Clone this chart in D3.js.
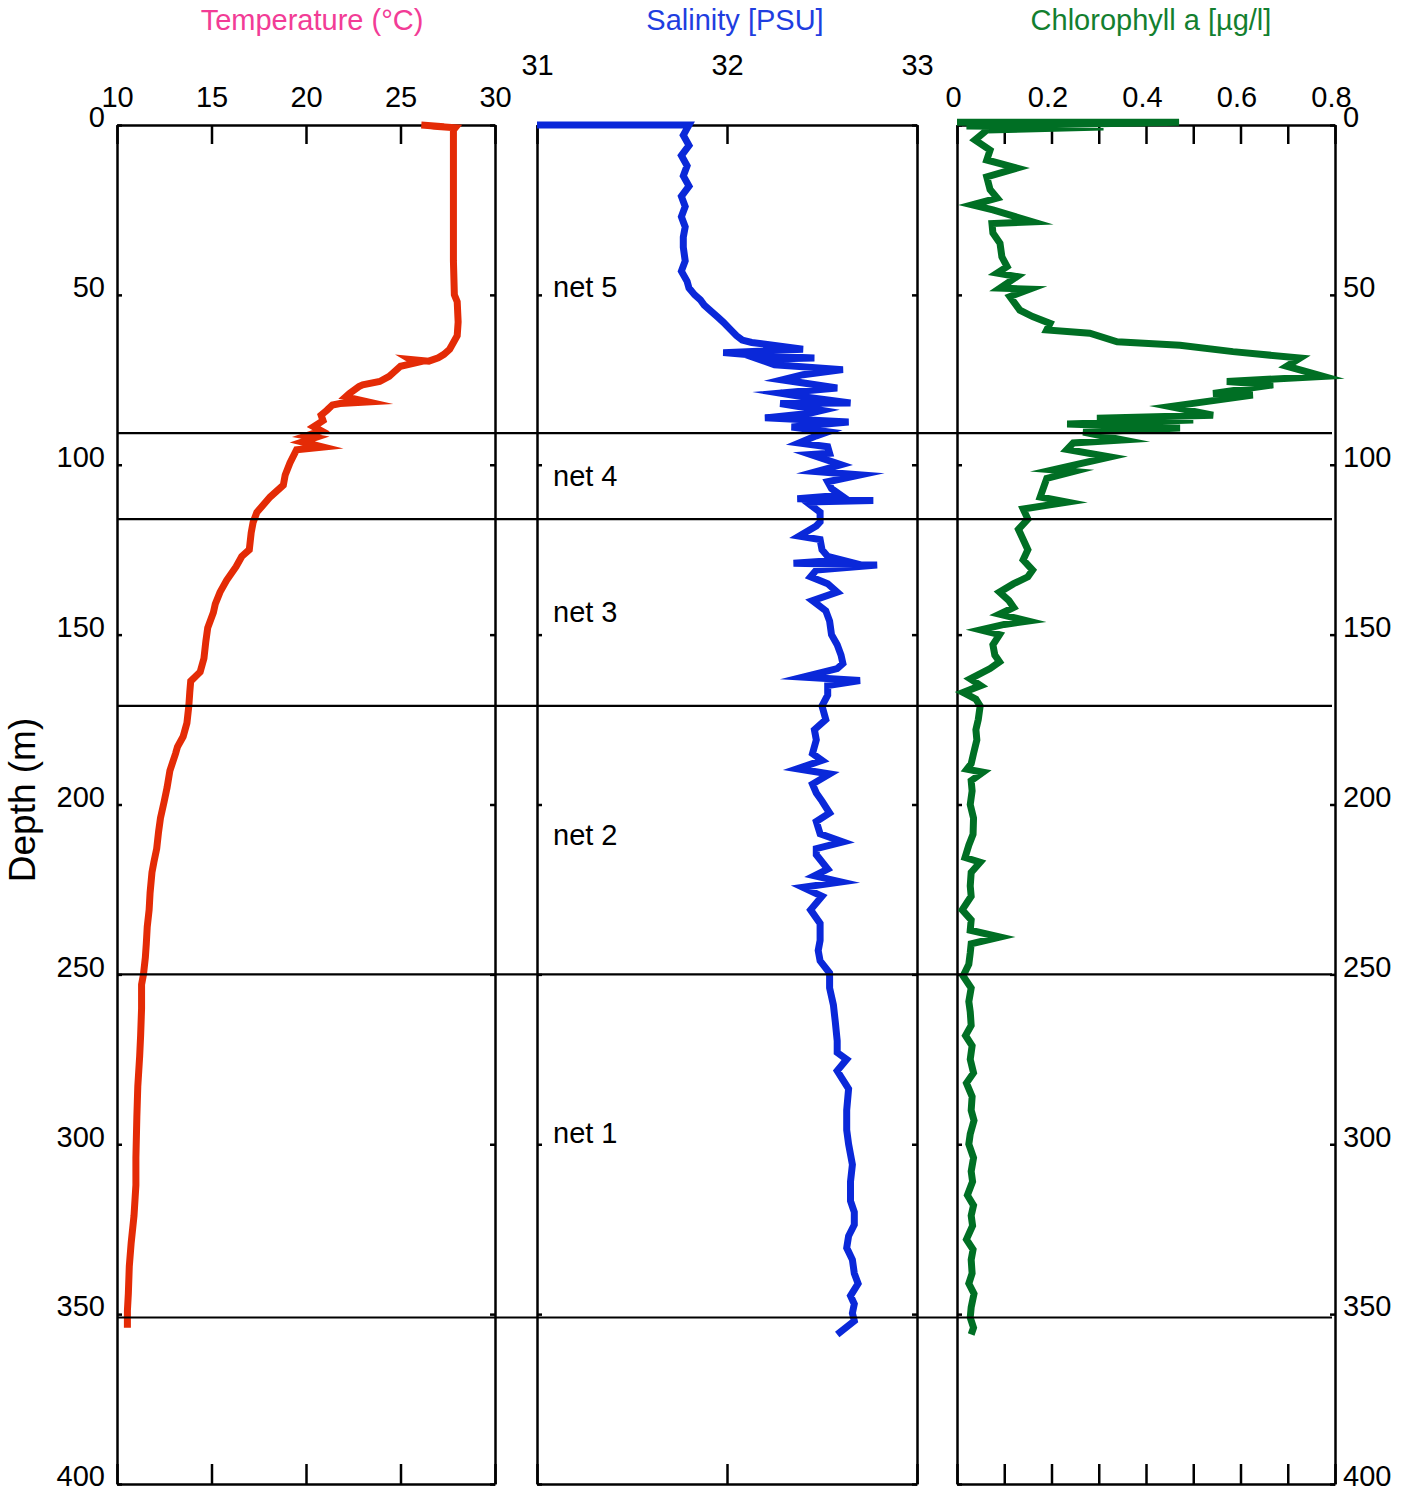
<!DOCTYPE html>
<html>
<head>
<meta charset="utf-8">
<script src="https://cdn.jsdelivr.net/npm/d3@7"></script>
<style>
body{margin:0;background:#fff}
text{font-family:"Liberation Sans",Arial,Helvetica,sans-serif}
</style>
</head>
<body>
<script>
// profiles: [depth (m), value]
const temperatureProfile = [[0,26.1],[0.5,27.3],[0.3,26.6],[0.8,27.9],[1.5,27.8],[10,27.8],[20,27.8],[30,27.8],[40,27.8],[50,27.85],
  [52,28.0],[58,28.05],[62,28.0],[64,27.8],[66,27.6],[67.5,27.3],[68.5,27.0],[69.5,26.5],[69,25.5],[70,25.8],[71,25.0],[73,24.6],
  [74,24.4],[75.5,23.9],[76.5,23.0],[77,22.8],[79,22.3],[80,22.1],[81.5,23.3],[82,21.8],[82.4,21.4],[84,21.1],[85.4,20.8],[87,20.9],
  [88.8,20.4],[90,20.8],[91.5,20.0],[92,20.5],[93.3,19.8],[94.8,20.9],[95.6,19.5],[99.5,19.15],[103,18.9],[106,18.8],[109.5,18.1],
  [114,17.4],[117,17.2],[120,17.1],[125,17.0],[127,16.6],[130,16.3],[134,15.8],[137.5,15.45],[141,15.2],[143.5,15.1],[148,14.8],
  [152,14.7],[157,14.6],[161,14.4],[163.7,13.9],[167,13.85],[171,13.8],[176,13.7],[180,13.5],[183,13.2],[185,13.1],[190,12.8],
  [195,12.65],[199,12.5],[204,12.3],[208,12.2],[213,12.1],[217,11.95],[220,11.85],[226,11.75],[231,11.7],[236,11.6],[241,11.55],
  [245,11.5],[250,11.4],[253,11.3],[260,11.3],[268,11.25],[274,11.2],[283,11.1],[292,11.05],[304,11.0],[312,11.0],[321,10.9],
  [329,10.75],[336,10.65],[344,10.6],[349,10.55],[354,10.55]]

const salinityProfile = [[0,31.0],[0,31.8],[1,31.79],[3,31.77],[6,31.8],[9,31.76],[12,31.79],[15,31.77],[18,31.8],[21,31.76],
  [24,31.78],[27,31.76],[30,31.78],[33,31.77],[36,31.77],[40,31.78],[43,31.76],[46,31.79],[48,31.8],[50,31.83],[51.5,31.86],
  [53,31.88],[55,31.92],[56.5,31.95],[58,31.98],[60.3,32.02],[62,32.05],[63.3,32.08],[64,32.13],[66,32.4],[67,31.98],[68,32.2],
  [68.6,32.46],[69,32.17],[70.6,32.25],[72,32.61],[73.5,32.4],[75,32.29],[77.4,32.58],[78.9,32.28],[80,32.4],[81.8,32.65],
  [82,32.28],[84,32.5],[84.8,32.44],[86.2,32.2],[87.4,32.64],[88.9,32.34],[90.3,32.53],[91.5,32.47],[93.6,32.38],[94.7,32.53],
  [96.6,32.54],[97,32.44],[100,32.6],[102,32.47],[103,32.7],[105,32.53],[107,32.55],[109,32.6],[110,32.37],[110.5,32.77],
  [111,32.42],[114,32.49],[116.8,32.49],[118,32.47],[121,32.38],[122,32.49],[125,32.5],[127,32.53],[128,32.6],[129,32.35],
  [129.5,32.79],[131,32.47],[133,32.44],[135,32.53],[137.5,32.58],[140,32.45],[143,32.52],[146,32.54],[150,32.55],[153,32.58],
  [156,32.6],[158.5,32.61],[160,32.58],[162.5,32.4],[163.5,32.7],[165,32.53],[167.8,32.53],[171,32.5],[175,32.52],[178,32.46],
  [181,32.47],[185,32.45],[187,32.5],[189.5,32.37],[191,32.54],[194,32.45],[196.6,32.47],[199,32.5],[202.5,32.54],[205,32.47],
  [208.6,32.49],[211,32.61],[213,32.47],[214.8,32.47],[219,32.53],[221,32.46],[222.8,32.6],[224.4,32.4],[227,32.5],[231,32.44],
  [235,32.49],[240,32.49],[243,32.48],[246,32.49],[249.6,32.54],[254,32.54],[259,32.56],[264,32.57],[269.6,32.58],[273,32.58],
  [275,32.63],[278.4,32.58],[283.7,32.64],[290,32.63],[295.8,32.63],[300,32.64],[306,32.66],[311,32.65],[316.7,32.65],[320,32.67],
  [323.7,32.67],[327,32.64],[330.5,32.63],[334,32.66],[338,32.67],[341,32.69],[344.6,32.65],[347,32.67],[349.7,32.66],[352,32.67],
  [356,32.58]]

const chlorophyllProfile = [[-0.8,0.0],[-0.8,0.47],[0.3,0.02],[0.6,0.31],[1.5,0.063],[4.4,0.038],[7.4,0.07],[10.3,0.063],
  [12.7,0.127],[15.3,0.063],[19,0.07],[21.5,0.085],[23.5,0.032],[25,0.076],[28.5,0.16],[29,0.074],[31.8,0.076],[34.8,0.091],
  [38.8,0.095],[41.7,0.106],[43.6,0.085],[44.6,0.127],[48,0.091],[48.3,0.154],[50.5,0.112],[54.5,0.133],[56.4,0.16],[58.4,0.197],
  [60.3,0.19],[61.3,0.281],[63.8,0.339],[64.8,0.472],[66.7,0.584],[68.6,0.726],[71,0.698],[74,0.775],[75.5,0.571],[76.5,0.669],
  [79,0.542],[79.5,0.626],[82.9,0.451],[85.4,0.542],[86.3,0.296],[86.8,0.5],[88,0.233],[89.2,0.472],[90.4,0.267],[92.7,0.351],
  [93.6,0.246],[95.5,0.233],[97.7,0.324],[101.5,0.203],[102,0.246],[104,0.19],[109.5,0.176],[111,0.233],[113,0.14],[116,0.15],
  [119,0.13],[122,0.14],[125,0.15],[128,0.14],[131,0.16],[133,0.15],[135,0.12],[137.5,0.09],[140,0.11],[142,0.12],[144,0.09],
  [146,0.15],[147,0.1],[148.6,0.05],[150,0.09],[153,0.076],[156,0.08],[158,0.09],[160,0.07],[163,0.028],[165,0.05],[167,0.013],
  [169,0.04],[171,0.049],[175,0.045],[178,0.04],[181,0.042],[185,0.035],[188,0.03],[189.6,0.021],[190.5,0.055],[193,0.03],
  [196,0.032],[200,0.028],[204,0.035],[208.8,0.034],[212,0.025],[215.6,0.017],[217,0.049],[220,0.03],[224,0.028],[227,0.03],
  [231,0.011],[234,0.03],[237,0.028],[239,0.091],[241,0.03],[243.7,0.028],[247,0.025],[250.5,0.013],[254,0.03],[258,0.025],
  [261,0.028],[265,0.03],[268,0.018],[271,0.032],[275,0.028],[279,0.035],[282,0.02],[286,0.032],[290,0.03],[293,0.036],
  [297,0.028],[300,0.025],[304,0.035],[308,0.03],[311,0.033],[315,0.022],[318,0.035],[321,0.03],[324,0.033],[328,0.02],
  [331,0.034],[334,0.03],[338,0.032],[341,0.025],[344,0.036],[348,0.03],[351,0.028],[354,0.035],[356,0.03]]

const depthTicks = [0,50,100,150,200,250,300,350,400]
const tempTicks = [10,15,20,25,30]
const salinityTicks = [31,32,33]
const chlorophyllTicks = [0,0.1,0.2,0.3,0.4,0.5,0.6,0.7,0.8]
const chlorophyllLabels = [0,0.2,0.4,0.6,0.8]

const netDepths = [90.7,116,171,250,351]
const netNames = ["net 5","net 4","net 3","net 2","net 1"]
const netLabelDepths = [47.7,103.3,143.3,209,296.7]

const svg = d3.select("body").append("svg").attr("width",1412).attr("height",1489)
const plotTop = 125, plotBottom = 1484
const y = d3.scaleLinear().domain([0,400]).range([plotTop,plotBottom])

const panels = [
  {left:117, right:495, domain:[10,30], ticks:tempTicks, labels:tempTicks, data:temperatureProfile,
   color:"#e42b06", title:"Temperature (°C)", titleColor:"#f23c96", titleX:312, pad:18, shift:0},
  {left:537, right:917, domain:[31,33], ticks:salinityTicks, labels:salinityTicks, data:salinityProfile,
   color:"#0a28d9", title:"Salinity [PSU]", titleColor:"#1f3ee0", titleX:735, pad:50, shift:0},
  {left:957, right:1335, domain:[0,0.8], ticks:chlorophyllTicks, labels:chlorophyllLabels, data:chlorophyllProfile,
   color:"#006f24", title:"Chlorophyll a [µg/l]", titleColor:"#137f2f", titleX:1151, pad:18, shift:-4}
]

function styleAxis(g) {
  g.attr("font-size",null).attr("font-family",null)
  g.select(".domain").attr("stroke","#000").attr("stroke-width",2.5)
  g.selectAll(".tick line").attr("stroke","#000").attr("stroke-width",2.5)
  g.selectAll(".tick text").attr("font-size",29).attr("fill","#000")
}

panels.forEach((p,i) => {
  const x = d3.scaleLinear().domain(p.domain).range([p.left,p.right])
  const fmt = d => p.labels.includes(d) ? String(d) : ""

  // top axis with labels
  svg.append("g").attr("transform",`translate(0,${plotTop})`)
     .call(d3.axisTop(x).tickValues(p.ticks).tickSizeInner(-19).tickSizeOuter(0).tickPadding(p.pad).tickFormat(fmt))
     .call(styleAxis)
     .selectAll(".tick text").attr("dx",p.shift)
  // bottom axis, ticks only
  svg.append("g").attr("transform",`translate(0,${plotBottom})`)
     .call(d3.axisBottom(x).tickValues(p.ticks).tickSizeInner(-20).tickSizeOuter(0).tickFormat(""))
     .call(styleAxis)
  // depth axes
  svg.append("g").attr("transform",`translate(${p.left},0)`)
     .call(d3.axisLeft(y).tickValues(depthTicks).tickSizeInner(-5).tickSizeOuter(0).tickPadding(12)
       .tickFormat(i === 0 ? d3.format("d") : ""))
     .call(styleAxis)
     .selectAll(".tick text").attr("dy","0.06em")
  svg.append("g").attr("transform",`translate(${p.right},0)`)
     .call(d3.axisRight(y).tickValues(depthTicks).tickSizeInner(-5).tickSizeOuter(0).tickPadding(8)
       .tickFormat(i === 2 ? d3.format("d") : ""))
     .call(styleAxis)
     .selectAll(".tick text").attr("dy","0.06em")

  // profile
  const line = d3.line().x(d => x(d[1])).y(d => y(d[0]))
  svg.append("path").datum(p.data).attr("d",line).attr("fill","none")
     .attr("stroke",p.color).attr("stroke-width",7).attr("stroke-linejoin","miter").attr("stroke-miterlimit",8)

  // title
  svg.append("text").attr("x",p.titleX).attr("y",30).attr("text-anchor","middle")
     .attr("font-size",29).attr("fill",p.titleColor).text(p.title)
})

// depth label
svg.append("text").attr("transform","translate(35,800) rotate(-90)").attr("text-anchor","middle")
   .attr("font-size",37).attr("fill","#000").text("Depth (m)")

// net boundaries
svg.selectAll(".net").data(netDepths).enter().append("line").attr("class","net")
   .attr("x1",117).attr("x2",1332).attr("y1",d => y(d)).attr("y2",d => y(d))
   .attr("stroke","#000").attr("stroke-width",2.2)

svg.selectAll(".netlabel").data(netNames).enter().append("text").attr("class","netlabel")
   .attr("x",553).attr("y",(d,i) => y(netLabelDepths[i])).attr("dy","0.35em")
   .attr("font-size",29).attr("fill","#000").text(d => d)
</script>
</body>
</html>
